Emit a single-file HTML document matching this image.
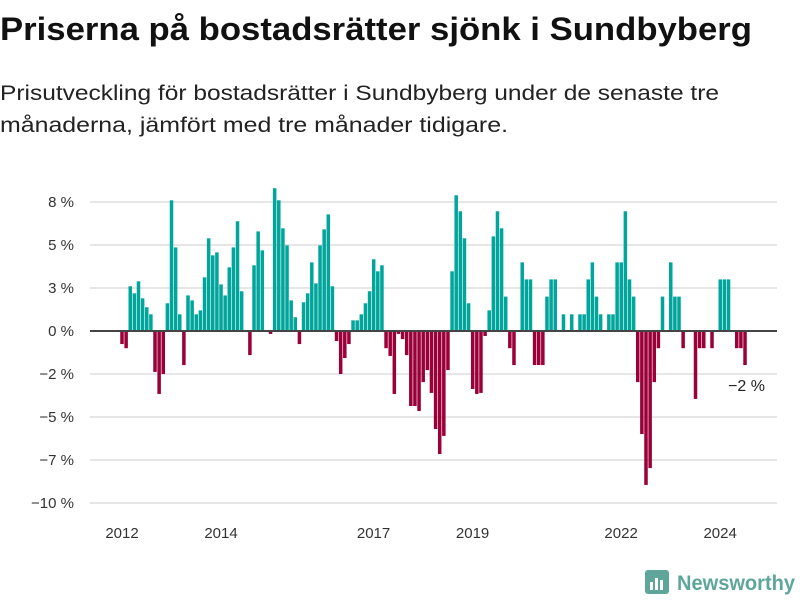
<!DOCTYPE html>
<html><head><meta charset="utf-8">
<style>
body{margin:0;background:#fff;width:800px;height:600px;overflow:hidden;font-family:"Liberation Sans",sans-serif;}
</style></head>
<body>
<svg width="800" height="600" xmlns="http://www.w3.org/2000/svg" id="chart">
<text x="0" y="40" font-size="32" font-weight="bold" fill="#111" textLength="752" lengthAdjust="spacingAndGlyphs">Priserna på bostadsrätter sjönk i Sundbyberg</text>
<text x="0" y="100" font-size="21" fill="#222" textLength="719" lengthAdjust="spacingAndGlyphs">Prisutveckling för bostadsrätter i Sundbyberg under de senaste tre</text>
<text x="0" y="132" font-size="21" fill="#222" textLength="508" lengthAdjust="spacingAndGlyphs">månaderna, jämfört med tre månader tidigare.</text>
<g id="grid"></g>
<g id="ylabels"></g>
<g id="bars"></g>
<g id="xlabels"></g>
<text x="765" y="391" font-size="16" fill="#222" text-anchor="end">−2 %</text>
<g>
<rect x="645" y="570" width="24" height="24" rx="3" fill="#5fa69a"/>
<rect x="650" y="582" width="3" height="8" fill="#fff"/><rect x="655" y="578" width="3" height="12" fill="#fff"/><rect x="660" y="580" width="3" height="10" fill="#fff"/>
<text x="677" y="590" font-size="21" font-weight="bold" fill="#5fa69a" textLength="118" lengthAdjust="spacingAndGlyphs">Newsworthy</text>
</g>
</svg>
<script>
const values=[-0.76,-1.0,2.6,2.19,2.89,1.9,1.38,0.97,-2.38,-3.66,-2.5,1.61,7.6,4.86,0.97,-1.98,2.07,1.78,0.97,1.2,3.12,5.39,4.4,4.57,2.71,2.07,3.7,4.86,6.38,2.31,0,-1.4,3.82,5.79,4.69,0,-0.17,8.3,7.6,5.97,4.98,1.78,0.8,-0.76,1.67,2.19,3.99,2.77,4.98,5.91,6.78,2.6,-0.58,-2.5,-1.57,-0.76,0.62,0.62,0.97,1.61,2.31,4.17,3.47,3.82,-1.0,-1.45,-3.66,-0.17,-0.47,-1.4,-4.36,-4.36,-4.65,-2.97,-2.27,-3.6,-5.7,-7.15,-6.1,-2.27,3.47,7.89,6.96,5.39,1.61,-3.37,-3.66,-3.6,-0.29,1.2,5.5,6.96,5.97,2.0,-1.0,-1.98,0,3.99,3.0,3.0,-1.98,-1.98,-1.98,2.0,3.0,3.0,0,0.97,0,0.97,0,0.97,0.97,3.0,3.99,2.0,0.97,0,0.97,0.97,3.99,3.99,6.96,3.0,2.0,-2.97,-5.99,-8.95,-7.97,-2.97,-1.0,2.0,0,3.99,2.0,2.0,-1.0,0,0,-3.95,-1.0,-1.0,0,-1.0,0,3.0,3.0,3.0,0,-1.0,-1.0,-1.98];
const yTicks=[7.5,5,2.5,0,-2.5,-5,-7.5,-10];
const yTickLabels=["8 %","5 %","3 %","0 %","−2 %","−5 %","−7 %","−10 %"];
const xTickIndex=[0,24,60,84,120,144];
const xTickLabels=["2012","2014","2017","2019","2022","2024"];
const NS="http://www.w3.org/2000/svg";
const y0=331, pxPer=17.2, x0=122, pitch=4.126;
function yS(v){return y0-v*pxPer;}
function xS(i){return x0+i*pitch;}
function mk(t,a,p){const e=document.createElementNS(NS,t);for(const k in a)e.setAttribute(k,a[k]);p.appendChild(e);return e;}
const grid=document.getElementById('grid'),yl=document.getElementById('ylabels'),bars=document.getElementById('bars'),xl=document.getElementById('xlabels');
yTicks.forEach((v,i)=>{
  if(v!==0){const g=mk('line',{x1:90,x2:777,y1:yS(v),y2:yS(v),stroke:'#dedede','stroke-width':1.5},grid);
  
  }
  const t=mk('text',{x:74,y:yS(v)+5,'font-size':15,fill:'#333','text-anchor':'end'},yl);
  t.textContent=yTickLabels[i];
  
  
});
values.forEach((v,i)=>{
  if(v===0)return;
  const w=pitch*0.85;
  const r=mk('rect',{x:xS(i)-w/2,y:Math.min(yS(v),y0),width:w,height:Math.abs(yS(v)-y0),fill:v>0?'#00a59b':'#9b0039'},bars);
  
  
});
const z=mk('line',{x1:90,x2:777,y1:y0,y2:y0,stroke:'#444','stroke-width':2},bars);


xTickIndex.forEach((idx,i)=>{
  const t=mk('text',{x:xS(idx)+(i>=2?4:0),y:538,'font-size':15,fill:'#333','text-anchor':'middle'},xl);
  t.textContent=xTickLabels[i];
  
  
});
</script>
</body></html>
